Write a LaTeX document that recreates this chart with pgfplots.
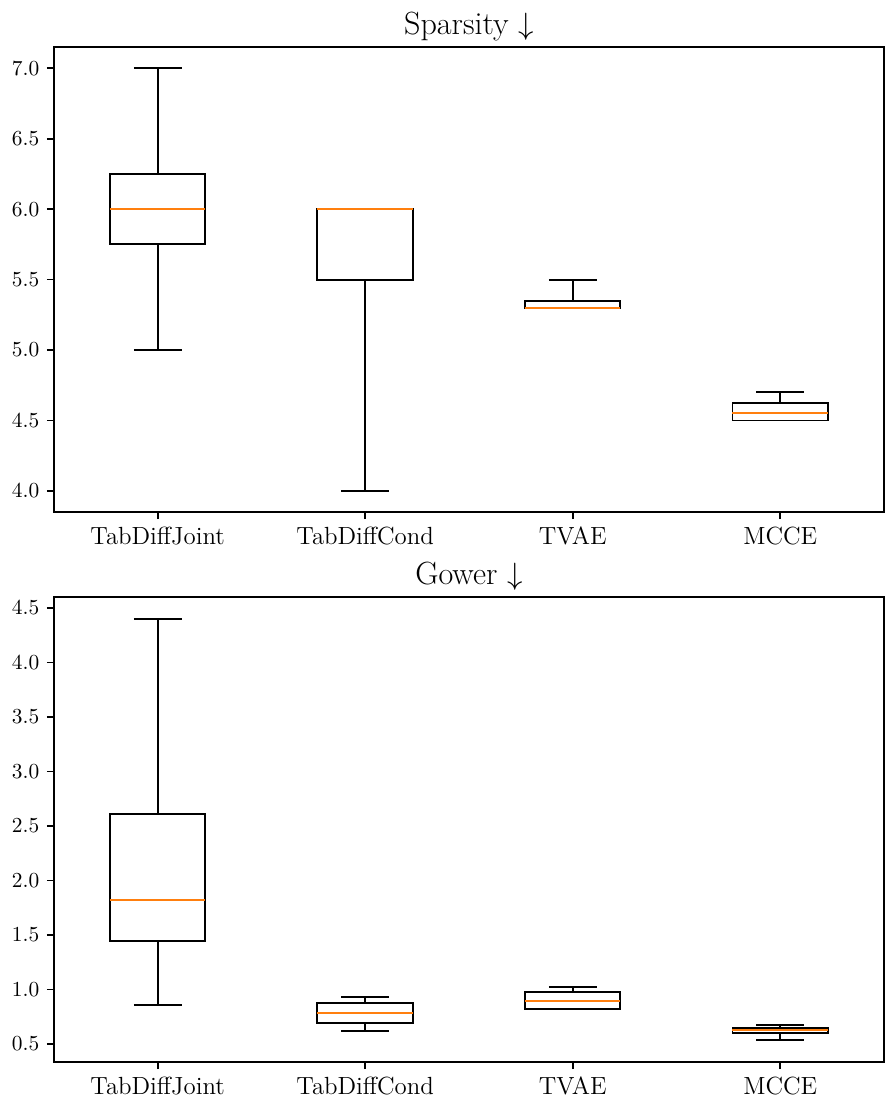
\documentclass[border=0pt]{standalone}
\usepackage{pgfplots}
\pgfplotsset{compat=1.18}
\usepgfplotslibrary{statistics}
\definecolor{medorange}{HTML}{FF7F0E}

\pgfplotsset{
  boxstyle/.style={
    scale only axis,
    width=387.9pt, height=217.3pt,
    xmin=0.5, xmax=4.5,
    xtick={1,2,3,4},
    xticklabels={TabDiffJoint,TabDiffCond,TVAE,MCCE},
    tick pos=left,
    tick align=outside,
    major tick length=3.3pt,
    every tick/.style={black, line width=0.8pt},
    axis line style={line width=0.8pt},
    x tick label style={font=\fontsize{11.6}{13}\selectfont},
    y tick label style={font=\fontsize{10}{12}\selectfont},
    yticklabel style={/pgf/number format/.cd, fixed, fixed zerofill, precision=1},
    title style={font=\fontsize{15}{18}\selectfont, yshift=-6.5pt},
    boxplot/draw direction=y,
    boxplot/every box/.style={draw=black, line width=0.9pt},
    boxplot/every whisker/.style={draw=black, line width=0.9pt},
    boxplot/every median/.style={draw=medorange, line width=0.9pt},
    boxplot/box extend=0.46,
    boxplot/whisker extend=0.23,
  },
}

\begin{document}
\begin{tikzpicture}
\useasboundingbox (-25.2pt,-18.7pt) rectangle (388.4pt,496.3pt);

% Sparsity
\begin{axis}[boxstyle, at={(0,257pt)}, anchor=south west,
  ymin=3.85, ymax=7.15, ytick={4.0,4.5,...,7.0},
  title={Sparsity $\downarrow$}]
\addplot+[black, mark=none, boxplot prepared={draw position=1,
  lower whisker=5.0, lower quartile=5.75, median=6.0,
  upper quartile=6.25, upper whisker=7.0}] coordinates {};
\addplot+[black, mark=none, boxplot prepared={draw position=2,
  lower whisker=4.0, lower quartile=5.5, median=6.0,
  upper quartile=6.0, upper whisker=6.0}] coordinates {};
\addplot+[black, mark=none, boxplot prepared={draw position=3,
  lower whisker=5.3, lower quartile=5.3, median=5.3,
  upper quartile=5.35, upper whisker=5.5}] coordinates {};
\addplot+[black, mark=none, boxplot prepared={draw position=4,
  lower whisker=4.5, lower quartile=4.5, median=4.55,
  upper quartile=4.625, upper whisker=4.7}] coordinates {};
\end{axis}

% Gower
\begin{axis}[boxstyle, at={(0,0)}, anchor=south west,
  ymin=0.336, ymax=4.60, ytick={0.5,1.0,...,4.5},
  title={Gower $\downarrow$}]
\addplot+[black, mark=none, boxplot prepared={draw position=1,
  lower whisker=0.859, lower quartile=1.445, median=1.82,
  upper quartile=2.61, upper whisker=4.40}] coordinates {};
\addplot+[black, mark=none, boxplot prepared={draw position=2,
  lower whisker=0.618, lower quartile=0.691, median=0.788,
  upper quartile=0.880, upper whisker=0.935}] coordinates {};
\addplot+[black, mark=none, boxplot prepared={draw position=3,
  lower whisker=0.818, lower quartile=0.825, median=0.896,
  upper quartile=0.978, upper whisker=1.021}] coordinates {};
\addplot+[black, mark=none, boxplot prepared={draw position=4,
  lower whisker=0.536, lower quartile=0.600, median=0.630,
  upper quartile=0.648, upper whisker=0.676}] coordinates {};
\end{axis}
\end{tikzpicture}
\end{document}
